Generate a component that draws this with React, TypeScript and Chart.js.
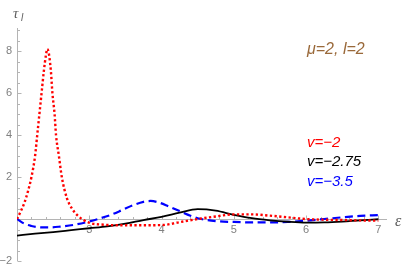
import React, { useEffect, useRef } from 'react';
import { Chart, registerables } from 'chart.js';

Chart.register(...registerables);

// ---- data ----
const redX = [2.0, 2.05, 2.1, 2.15, 2.2, 2.25, 2.28, 2.31, 2.34, 2.37, 2.4, 2.42, 2.44, 2.47, 2.49, 2.52, 2.54, 2.58, 2.62, 2.69, 2.76, 2.83, 2.9, 3.0, 3.2, 3.5, 4.0, 4.25, 4.5, 4.75, 5.0, 5.25, 5.5, 5.75, 6.0, 6.5, 7.0];
const redY = [0.0, 0.35, 0.75, 1.3, 2.0, 3.0, 4.0, 5.0, 6.0, 7.0, 7.8, 8.1, 7.9, 7.0, 6.0, 5.0, 4.0, 3.0, 2.0, 1.0, 0.5, 0.2, 0.0, -0.18, -0.27, -0.3, -0.29, -0.15, 0.0, 0.12, 0.22, 0.22, 0.16, 0.08, 0.0, -0.05, -0.08];

const blackX = [2.0, 2.25, 2.5, 2.75, 3.0, 3.25, 3.5, 3.75, 4.0, 4.25, 4.5, 4.75, 5.0, 5.25, 5.5, 5.75, 6.0, 6.25, 6.5, 6.75, 7.0];
const blackY = [-0.79, -0.7, -0.62, -0.53, -0.44, -0.35, -0.22, -0.05, 0.1, 0.3, 0.47, 0.4, 0.2, 0.04, -0.06, -0.13, -0.17, -0.16, -0.12, -0.06, -0.01];

const blueX = [2.0, 2.1, 2.2, 2.3, 2.45, 2.6, 2.8, 3.0, 3.15, 3.3, 3.45, 3.6, 3.75, 3.85, 3.95, 4.1, 4.25, 4.4, 4.55, 4.75, 5.0, 5.25, 5.5, 5.75, 6.0, 6.25, 6.5, 6.75, 7.0];
const blueY = [0.0, -0.22, -0.33, -0.39, -0.4, -0.36, -0.27, -0.12, 0.03, 0.2, 0.42, 0.65, 0.82, 0.86, 0.8, 0.6, 0.38, 0.16, 0.0, -0.1, -0.14, -0.16, -0.16, -0.14, -0.08, 0.0, 0.08, 0.15, 0.19];

const seriesLabels = ['v=−2', 'v=−2.75', 'v=−3.5'];
const seriesColors = ['#ff0000', '#000000', '#0000ff'];
const paramLabel = 'μ=2, l=2';
const yAxisTitle = 'τ';
const yAxisSub = 'l';
const xAxisTitle = 'ε';

const xMin = 2;
const xMax = 7.12;
const yMin = -2;
const yMax = 9.1;
const xMajorLabels = [3, 4, 5, 6, 7];
const yMajorLabels = [-2, 2, 4, 6, 8];
const xMinorStep = 0.2;
const yMinorStep = 0.5;

const toPts = (xs: number[], ys: number[]) => xs.map((x, i) => ({ x, y: ys[i] }));

const axisColor = '#b4b4b4';
const labelColor = '#808080';

const decoPlugin = {
  id: 'deco',
  beforeDatasetsDraw(chart: any) {
    const { ctx, chartArea, scales } = chart;
    const xs = scales.x;
    const ys = scales.y;
    const y0 = Math.round(ys.getPixelForValue(0)) + 0.5;
    const xL = Math.round(chartArea.left) + 0.5;
    ctx.save();
    ctx.strokeStyle = axisColor;
    ctx.lineWidth = 1;
    ctx.beginPath();
    ctx.moveTo(chartArea.left, y0);
    ctx.lineTo(chartArea.right, y0);
    ctx.moveTo(xL, chartArea.top);
    ctx.lineTo(xL, chartArea.bottom);
    ctx.stroke();
    const nx = Math.round((7 - xMin) / xMinorStep);
    for (let i = 1; i <= nx; i++) {
      const v = xMin + i * xMinorStep;
      const major = Math.abs(v - Math.round(v)) < 1e-6;
      const px = Math.round(xs.getPixelForValue(v)) + 0.5;
      ctx.beginPath();
      ctx.moveTo(px, y0);
      ctx.lineTo(px, y0 - (major ? 4 : 2.5));
      ctx.stroke();
    }
    const ny = Math.floor((yMax - yMin) / yMinorStep);
    for (let i = 0; i <= ny; i++) {
      const v = yMin + i * yMinorStep;
      if (Math.abs(v) < 1e-6) continue;
      const major = Math.abs(v / 2 - Math.round(v / 2)) < 1e-6;
      const py = Math.round(ys.getPixelForValue(v)) + 0.5;
      ctx.beginPath();
      ctx.moveTo(xL, py);
      ctx.lineTo(xL + (major ? 4 : 2.5), py);
      ctx.stroke();
    }
    ctx.restore();
  },
  afterDraw(chart: any) {
    const { ctx, chartArea, scales } = chart;
    const ys = scales.y;
    ctx.save();
    ctx.textBaseline = 'middle';
    ctx.textAlign = 'left';
    ctx.fillStyle = '#606060';
    ctx.font = 'italic 15px "Liberation Serif", serif';
    ctx.fillText(yAxisTitle, 13, 14);
    ctx.font = 'italic 10px "Liberation Sans", sans-serif';
    ctx.fillText(yAxisSub, 21, 18);
    ctx.font = 'italic 16px "Liberation Serif", serif';
    ctx.fillText(xAxisTitle, chartArea.right + 8, ys.getPixelForValue(0) + 3);
    ctx.fillStyle = '#9a693a';
    ctx.font = 'italic 16px "Liberation Sans", sans-serif';
    ctx.fillText(paramLabel, 307, 50);
    ctx.font = 'italic 15px "Liberation Sans", sans-serif';
    seriesLabels.forEach((s, i) => {
      ctx.fillStyle = seriesColors[i];
      ctx.fillText(s, 307, 142.5 + i * 19.8);
    });
    ctx.restore();
  },
};

export default function App() {
  const ref = useRef<HTMLCanvasElement>(null);
  useEffect(() => {
    if (!ref.current) return;
    const chart = new Chart(ref.current, {
      type: 'line',
      data: {
        datasets: [
          {
            label: seriesLabels[0],
            data: toPts(redX, redY),
            borderColor: seriesColors[0],
            borderWidth: 2.4,
            borderDash: [2.3, 2.4],
            pointRadius: 0,
            cubicInterpolationMode: 'monotone',
            fill: false,
          },
          {
            label: seriesLabels[1],
            data: toPts(blackX, blackY),
            borderColor: seriesColors[1],
            borderWidth: 1.8,
            pointRadius: 0,
            cubicInterpolationMode: 'monotone',
            fill: false,
          },
          {
            label: seriesLabels[2],
            data: toPts(blueX, blueY),
            borderColor: seriesColors[2],
            borderWidth: 2.2,
            borderDash: [8, 4.5],
            pointRadius: 0,
            cubicInterpolationMode: 'monotone',
            fill: false,
          },
        ],
      },
      options: {
        responsive: false,
        animation: false,
        devicePixelRatio: 1,
        layout: { padding: { top: 28, bottom: 8, right: 21, left: 0 } },
        plugins: { legend: { display: false }, tooltip: { enabled: false } },
        scales: {
          x: {
            type: 'linear',
            min: xMin,
            max: xMax,
            position: { y: 0 } as any,
            grid: { display: false, drawTicks: false, tickLength: 0 },
            border: { display: false },
            afterFit: (s: any) => {
              s.height = 0;
              s.paddingLeft = 0;
              s.paddingRight = 0;
              s.paddingTop = 0;
              s.paddingBottom = 0;
            },
            afterBuildTicks: (s: any) => { s.ticks = xMajorLabels.map((v) => ({ value: v })); },
            ticks: {
              color: labelColor,
              font: { family: '"Liberation Sans", Arial, sans-serif', size: 11 },
              padding: 4,
              maxRotation: 0,
              autoSkip: false,
              callback: (v: any) => String(v),
            },
          },
          y: {
            type: 'linear',
            min: yMin,
            max: yMax,
            position: 'left',
            grid: { display: false, drawTicks: false, tickLength: 0 },
            border: { display: false },
            afterFit: (s: any) => {
              s.width = 17;
              s.paddingTop = 0;
              s.paddingBottom = 0;
              s.paddingLeft = 0;
              s.paddingRight = 0;
            },
            afterBuildTicks: (s: any) => { s.ticks = yMajorLabels.map((v) => ({ value: v })); },
            ticks: {
              color: labelColor,
              font: { family: '"Liberation Sans", Arial, sans-serif', size: 11 },
              padding: 5,
              autoSkip: false,
              callback: (v: any) => (v < 0 ? '−' + Math.abs(v) : String(v)),
            },
          },
        },
      },
      plugins: [decoPlugin],
    } as any);
    return () => chart.destroy();
  }, []);
  return (
    <div style={{ position: 'fixed', left: 0, top: 0, width: 408, height: 269, background: '#fff' }}>
      <canvas ref={ref} width={408} height={269} style={{ display: 'block' }} />
    </div>
  );
}
